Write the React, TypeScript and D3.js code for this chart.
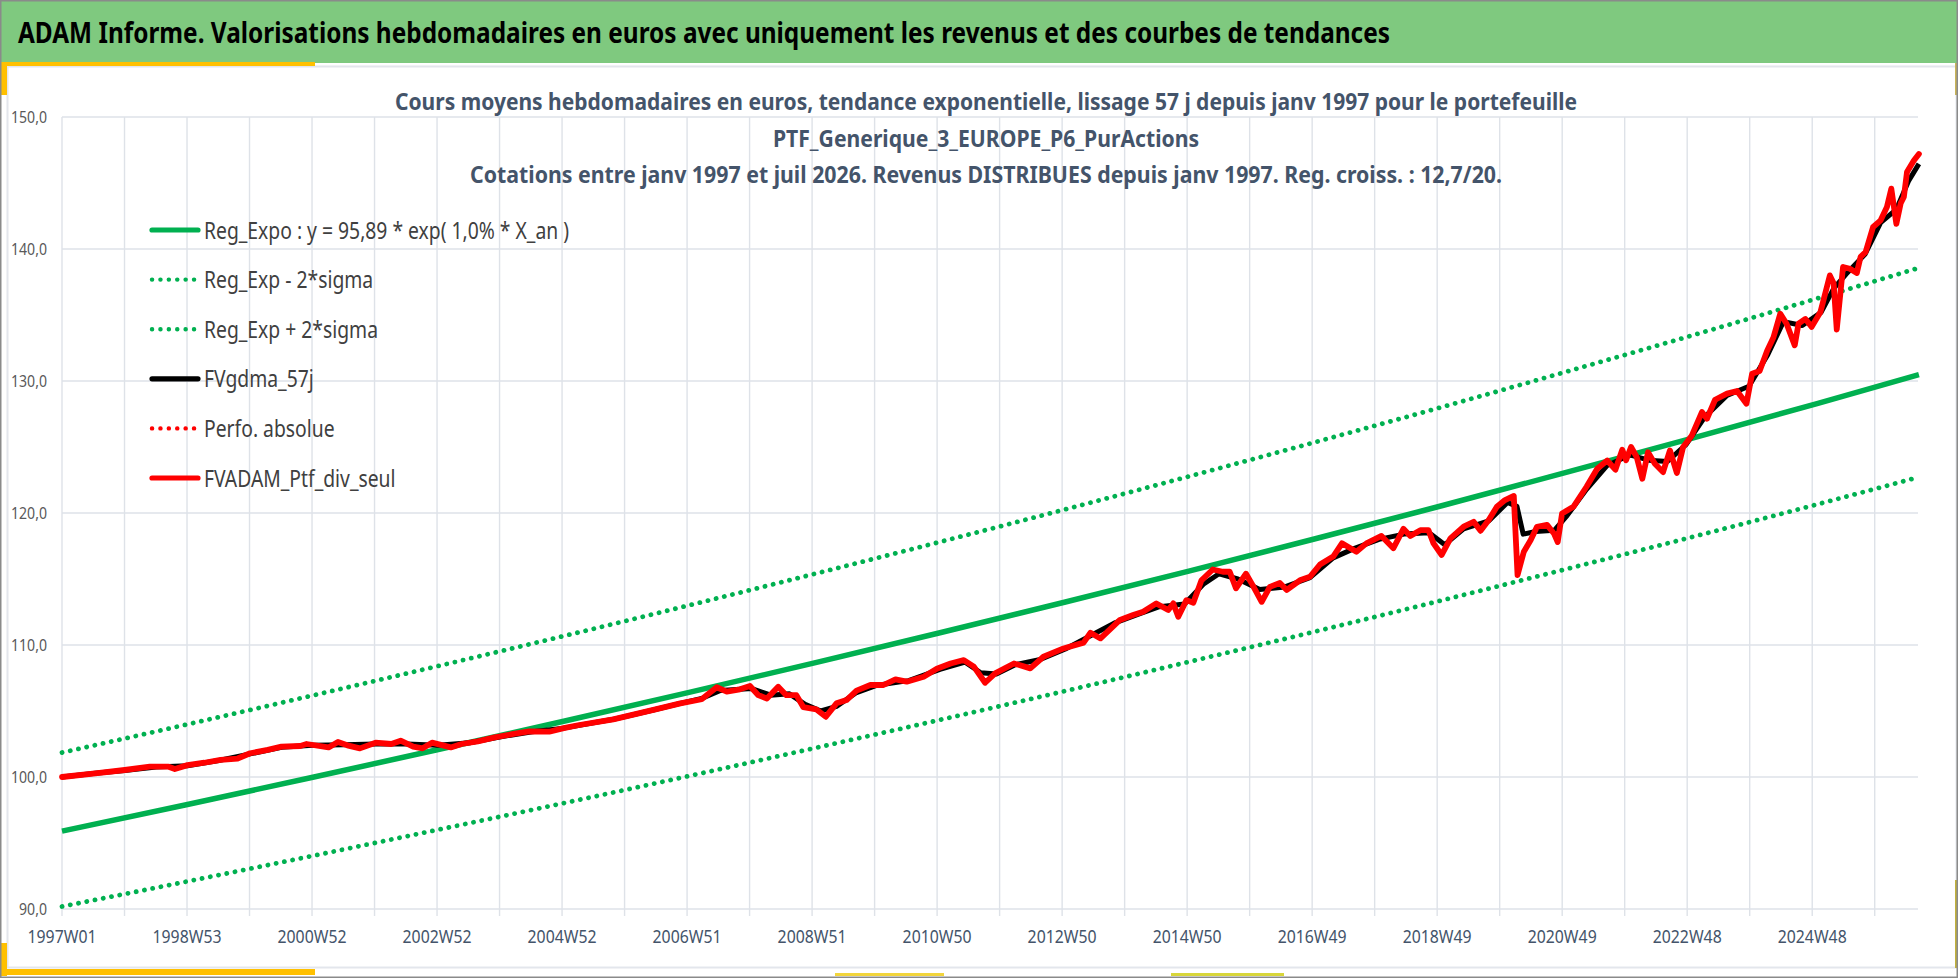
import { useEffect, useRef } from 'react'
import * as d3 from 'd3'

// page and plot frame
const W = 1958, H = 978
const P = { left: 62, right: 1918, top: 117, bottom: 909 }
const N_WEEKS = 1545          // 1997W01 .. juil 2026
const WEEKS_PER_YEAR = 52.17

const title = 'ADAM Informe. Valorisations hebdomadaires en euros avec uniquement les revenus et des courbes de tendances'
const subtitle = [
  'Cours moyens hebdomadaires  en euros, tendance exponentielle, lissage 57 j depuis janv 1997 pour le portefeuille',
  'PTF_Generique_3_EUROPE_P6_PurActions',
  'Cotations entre janv 1997 et juil 2026. Revenus DISTRIBUES depuis janv 1997. Reg. croiss. : 12,7/20.',
]

const xLabels = ['1997W01', '1998W53', '2000W52', '2002W52', '2004W52', '2006W51', '2008W51', '2010W50',
  '2012W50', '2014W50', '2016W49', '2018W49', '2020W49', '2022W48', '2024W48']
const yTicks = [90, 100, 110, 120, 130, 140, 150]

const legendLabels = [
  'Reg_Expo : y = 95,89 * exp( 1,0% *  X_an )',
  'Reg_Exp - 2*sigma',
  'Reg_Exp + 2*sigma',
  'FVgdma_57j',
  'Perfo. absolue',
  'FVADAM_Ptf_div_seul',
]

// tendance exponentielle et bandes +/- 2 sigma
const trendYears = [1997, 1999, 2001, 2003, 2005, 2007, 2009, 2011, 2013, 2015, 2017, 2019, 2021, 2023, 2025, 2026.61]
const trendValues = [95.90, 97.92, 99.98, 102.08, 104.22, 106.41, 108.65, 110.93, 113.26, 115.64, 118.07, 120.55, 123.09, 125.67, 128.31, 130.48]
const upperValues = [101.85, 103.99, 106.18, 108.41, 110.68, 113.01, 115.39, 117.81, 120.28, 122.81, 125.39, 128.02, 130.72, 133.46, 136.27, 138.57]
const lowerValues = [90.19, 92.09, 94.03, 96.01, 98.02, 100.08, 102.19, 104.33, 106.52, 108.76, 111.04, 113.38, 115.77, 118.19, 120.67, 122.72]

// FVADAM_Ptf_div_seul
const ptfYears = [
  1997.00, 1997.53, 1998.00, 1998.40, 1998.70, 1998.80, 1999.00, 1999.27, 1999.53, 1999.80,
  2000.00, 2000.28, 2000.50, 2000.80, 2000.90, 2001.25, 2001.40, 2001.55, 2001.75, 2002.00,
  2002.25, 2002.40, 2002.60, 2002.75, 2002.90, 2003.20, 2003.37, 2003.63, 2003.90, 2004.20,
  2004.45, 2004.77, 2005.00, 2005.25, 2005.79, 2006.43, 2006.86, 2007.20, 2007.44, 2007.60,
  2007.81, 2007.97, 2008.10, 2008.24, 2008.42, 2008.55, 2008.71, 2008.82, 2009.03, 2009.18,
  2009.35, 2009.51, 2009.67, 2009.89, 2010.10, 2010.29, 2010.47, 2010.74, 2010.95, 2011.17,
  2011.38, 2011.54, 2011.72, 2011.88, 2012.18, 2012.44, 2012.65, 2012.97, 2013.29, 2013.40,
  2013.56, 2013.87, 2014.08, 2014.24, 2014.45, 2014.64, 2014.72, 2014.80, 2014.93, 2015.04,
  2015.17, 2015.35, 2015.51, 2015.62, 2015.72, 2015.88, 2015.99, 2016.13, 2016.26, 2016.42,
  2016.53, 2016.74, 2016.90, 2017.06, 2017.27, 2017.41, 2017.64, 2017.80, 2018.04, 2018.23,
  2018.39, 2018.50, 2018.66, 2018.79, 2018.87, 2019.00, 2019.14, 2019.35, 2019.51, 2019.62,
  2019.75, 2019.88, 2020.01, 2020.15, 2020.21, 2020.31, 2020.42, 2020.52, 2020.68, 2020.79,
  2020.85, 2020.92, 2021.10, 2021.31, 2021.48, 2021.64, 2021.77, 2021.88, 2021.94, 2022.02,
  2022.11, 2022.20, 2022.29, 2022.40, 2022.53, 2022.64, 2022.75, 2022.85, 2022.99, 2023.15,
  2023.23, 2023.36, 2023.55, 2023.71, 2023.86, 2023.95, 2024.07, 2024.19, 2024.29, 2024.40,
  2024.50, 2024.63, 2024.69, 2024.80, 2024.90, 2025.04, 2025.19, 2025.25, 2025.30, 2025.40,
  2025.51, 2025.62, 2025.68, 2025.76, 2025.88, 2026.00, 2026.10, 2026.17, 2026.25, 2026.32,
  2026.37, 2026.42, 2026.53, 2026.61,
]
const ptfValues = [
  100.00, 100.28, 100.53, 100.78, 100.78, 100.60, 100.90, 101.08, 101.30, 101.40,
  101.80, 102.05, 102.30, 102.35, 102.50, 102.24, 102.65, 102.40, 102.17, 102.60,
  102.50, 102.75, 102.30, 102.17, 102.60, 102.24, 102.50, 102.70, 103.00, 103.26,
  103.46, 103.43, 103.70, 103.94, 104.37, 105.08, 105.58, 105.89, 106.80, 106.47,
  106.64, 106.89, 106.21, 105.95, 106.84, 106.20, 106.20, 105.30, 105.12, 104.56,
  105.58, 105.83, 106.54, 106.97, 106.97, 107.40, 107.22, 107.60, 108.20, 108.60,
  108.86, 108.36, 107.14, 107.85, 108.60, 108.23, 109.11, 109.74, 110.18, 110.93,
  110.50, 111.90, 112.27, 112.52, 113.15, 112.65, 113.15, 112.14, 113.40, 113.20,
  114.90, 115.72, 115.55, 115.55, 114.30, 115.40, 114.50, 113.27, 114.40, 114.70,
  114.17, 114.90, 115.17, 116.10, 116.70, 117.70, 117.07, 117.70, 118.26, 117.33,
  118.80, 118.26, 118.70, 118.70, 117.70, 116.82, 118.08, 118.96, 119.33, 118.65,
  119.47, 120.47, 120.98, 121.29, 115.30, 117.07, 117.95, 118.96, 119.10, 118.45,
  117.80, 119.97, 120.47, 121.99, 123.35, 123.98, 123.28, 124.80, 124.00, 125.00,
  124.24, 122.60, 124.60, 123.73, 123.10, 124.74, 123.03, 125.00, 125.88, 127.65,
  127.14, 128.58, 129.04, 129.24, 128.28, 130.55, 130.76, 132.30, 133.30, 135.10,
  134.34, 132.70, 134.34, 134.70, 134.10, 135.23, 138.00, 137.40, 133.90, 138.64,
  138.50, 138.18, 139.40, 139.77, 141.67, 142.17, 143.18, 144.57, 141.90, 143.48,
  143.94, 145.83, 146.71, 147.20,
]

// FVgdma_57j (moyenne lissée)
const smoothYears = [
  1997.00, 1997.53, 1998.00, 1998.50, 1999.00, 1999.50, 2000.00, 2000.50, 2001.00, 2001.50,
  2002.00, 2002.50, 2003.00, 2003.50, 2004.00, 2004.50, 2005.00, 2005.79, 2006.43, 2006.86,
  2007.20, 2007.50, 2008.00, 2008.30, 2008.60, 2008.85, 2009.10, 2009.35, 2009.67, 2010.00,
  2010.50, 2011.00, 2011.40, 2011.65, 2011.90, 2012.20, 2012.60, 2013.00, 2013.40, 2013.80,
  2014.20, 2014.50, 2014.90, 2015.20, 2015.45, 2015.75, 2016.10, 2016.50, 2016.90, 2017.27,
  2017.60, 2018.00, 2018.40, 2018.80, 2019.05, 2019.35, 2019.75, 2020.05, 2020.20, 2020.30,
  2020.50, 2020.80, 2021.00, 2021.31, 2021.64, 2022.00, 2022.30, 2022.60, 2022.90, 2023.20,
  2023.55, 2023.90, 2024.20, 2024.45, 2024.75, 2025.05, 2025.25, 2025.45, 2025.75, 2026.00,
  2026.25, 2026.45, 2026.61,
]
const smoothValues = [
  100.00, 100.28, 100.50, 100.75, 100.85, 101.25, 101.75, 102.25, 102.40, 102.45,
  102.50, 102.50, 102.40, 102.60, 103.05, 103.42, 103.70, 104.37, 105.08, 105.58,
  105.95, 106.55, 106.70, 106.20, 106.30, 105.50, 105.00, 105.35, 106.40, 106.95,
  107.30, 108.15, 108.70, 107.90, 107.80, 108.50, 108.90, 109.70, 110.70, 111.70,
  112.40, 112.90, 113.10, 114.60, 115.40, 115.00, 114.20, 114.40, 115.10, 116.60,
  117.30, 118.00, 118.40, 118.50, 117.60, 118.80, 119.40, 120.80, 120.50, 118.40,
  118.60, 118.70, 119.80, 121.80, 123.60, 124.40, 124.00, 123.90, 125.20, 127.30,
  128.90, 129.60, 132.00, 134.50, 134.20, 135.20, 137.00, 138.10, 139.60, 142.00,
  143.00, 145.20, 146.45,
]

const FAMILY = "'Noto Sans', 'Open Sans', 'DejaVu Sans', sans-serif"
const GREEN = '#00B050'
const GRID = '#DEE2E8'
const SLATE = '#44546A'

type TextStyle = { size: number; weight: string | number; fill: string }
type G = d3.Selection<SVGGElement, unknown, null, undefined>

const toWeek = (yr: number) => (yr - 1997) * WEEKS_PER_YEAR
const fr = d3.formatLocale({ decimal: ',', thousands: ' ', grouping: [3], currency: ['', ' €'] })
const fmtY = fr.format('.1f')

// natural width of a string in a given style
function measure(g: G, str: string, s: TextStyle) {
  const t = g.append('text').attr('font-family', FAMILY).attr('font-size', s.size)
    .attr('font-weight', s.weight).text(str)
  const w = (t.node() as SVGTextElement).getComputedTextLength()
  t.remove()
  return w
}

// text squeezed horizontally (the original is rendered in a narrow font)
function addText(g: G, str: string, x: number, y: number, anchor: 'start' | 'middle' | 'end',
  ratio: number, s: TextStyle) {
  const t = g.append('text').attr('y', y).attr('font-family', FAMILY).attr('font-size', s.size)
    .attr('font-weight', s.weight).attr('fill', s.fill).text(str)
  const len = (t.node() as SVGTextElement).getComputedTextLength() * ratio
  const x0 = anchor === 'start' ? x : anchor === 'middle' ? x - len / 2 : x - len
  t.attr('x', x0).attr('textLength', len).attr('lengthAdjust', 'spacingAndGlyphs')
  return t
}

export default function App() {
  const svgRef = useRef<SVGSVGElement>(null)

  useEffect(() => {
    document.body.style.margin = '0'
    document.body.style.overflow = 'hidden'
    const svg = d3.select(svgRef.current)
    svg.selectAll('*').remove()
    const root = svg.append('g') as unknown as G

    const x = d3.scaleLinear().domain([0, N_WEEKS - 1]).range([P.left, P.right])
    const y = d3.scaleLinear().domain([90, 150]).range([P.bottom, P.top])

    // cadre
    root.append('rect').attr('width', W).attr('height', H).attr('fill', '#fff')
    root.append('rect').attr('x', 7.5).attr('y', 66.5).attr('width', 1949).attr('height', 901)
      .attr('fill', 'none').attr('stroke', '#E3E6EC').attr('stroke-width', 2)
    root.append('rect').attr('width', W).attr('height', 63).attr('fill', '#7FC97F')
    root.append('rect').attr('x', 0).attr('y', 62).attr('width', 315).attr('height', 4).attr('fill', '#FFC000')
    root.append('rect').attr('x', 0).attr('y', 63).attr('width', 7).attr('height', 32).attr('fill', '#FFC000')
    root.append('rect').attr('x', 0).attr('y', 943).attr('width', 7).attr('height', 33).attr('fill', '#FFC000')
    root.append('rect').attr('x', 7).attr('y', 969).attr('width', 308).attr('height', 6).attr('fill', '#FFC000')
    root.append('rect').attr('x', 835).attr('y', 973).attr('width', 109).attr('height', 3).attr('fill', '#F2D53C')
    root.append('rect').attr('x', 1171).attr('y', 973).attr('width', 113).attr('height', 3).attr('fill', '#D8D63A')
    root.append('rect').attr('x', 1955).attr('y', 63).attr('width', 3).attr('height', 32).attr('fill', '#C9B458')
    root.append('rect').attr('x', 1955).attr('y', 880).attr('width', 3).attr('height', 88).attr('fill', '#C2B13C')
    root.append('rect').attr('x', 0.75).attr('y', 0.75).attr('width', W - 1.5).attr('height', H - 1.5)
      .attr('fill', 'none').attr('stroke', '#8A8A8A').attr('stroke-width', 1.5)

    // titre du bandeau
    const hStyle = { size: 29, weight: 700, fill: '#000' }
    addText(root, title, 18, 43, 'start', 1372 / measure(root, title, hStyle), hStyle)

    // grille
    const grid = root.append('g')
    grid.selectAll('line.v').data(d3.range(0, N_WEEKS, 52)).join('line')
      .attr('x1', (d) => x(d)).attr('x2', (d) => x(d))
      .attr('y1', P.top).attr('y2', P.bottom + 7)
      .attr('stroke', GRID).attr('stroke-width', 1.4)
    grid.selectAll('line.h').data(yTicks).join('line')
      .attr('x1', P.left).attr('x2', P.right)
      .attr('y1', (d) => y(d)).attr('y2', (d) => y(d))
      .attr('stroke', GRID).attr('stroke-width', 1.4)

    // étiquettes d'axes
    const yStyle = { size: 16, weight: 400, fill: '#595959' }
    const yRatio = 36 / measure(root, '150,0', yStyle)
    yTicks.forEach((v) => addText(root, fmtY(v), 47, y(v) + 5.5, 'end', yRatio, yStyle))

    const xStyle = { size: 18, weight: 400, fill: SLATE }
    const xRatio = 69 / measure(root, xLabels[0], xStyle)
    xLabels.forEach((lab, i) => addText(root, lab, x(i * 104), 943, 'middle', xRatio, xStyle))

    // sous-titre
    const sStyle = { size: 23, weight: 700, fill: SLATE }
    const r1 = 1182 / measure(root, subtitle[0], sStyle)
    const r3 = 1032 / measure(root, subtitle[2], sStyle)
    addText(root, subtitle[0], 986, 110, 'middle', r1, sStyle)
    addText(root, subtitle[1], 986, 146.5, 'middle', (r1 + r3) / 2, sStyle)
    addText(root, subtitle[2], 986, 183, 'middle', r3, sStyle)

    // séries
    const series = root.append('g')
    const pair = (ys: number[], vs: number[]) => ys.map((t, i) => [t, vs[i]] as [number, number])
    const raw = d3.line<[number, number]>().x((d) => x(toWeek(d[0]))).y((d) => y(d[1]))
    const smooth = d3.line<[number, number]>().x((d) => x(toWeek(d[0]))).y((d) => y(d[1]))
      .curve(d3.curveMonotoneX)

    series.append('path').attr('d', smooth(pair(trendYears, trendValues)))
      .attr('fill', 'none').attr('stroke', GREEN).attr('stroke-width', 5.5)
    ;[lowerValues, upperValues].forEach((vals) => {
      series.append('path').attr('d', smooth(pair(trendYears, vals)))
        .attr('fill', 'none').attr('stroke', GREEN).attr('stroke-width', 4.8)
        .attr('stroke-linecap', 'round').attr('stroke-dasharray', '0.1 8.3')
    })
    series.append('path').attr('d', raw(pair(smoothYears, smoothValues)))
      .attr('fill', 'none').attr('stroke', '#000').attr('stroke-width', 5)
      .attr('stroke-linejoin', 'round')
    series.append('path').attr('d', raw(pair(ptfYears, ptfValues)))
      .attr('fill', 'none').attr('stroke', '#FF0000').attr('stroke-width', 5.8)
      .attr('stroke-linejoin', 'round').attr('stroke-linecap', 'round')

    // légende
    const lStyle = { size: 23, weight: 400, fill: '#404040' }
    const lRatio = 365 / measure(root, legendLabels[0], lStyle)
    const strokes = [GREEN, GREEN, GREEN, '#000', '#FF0000', '#FF0000']
    const dotted = [false, true, true, false, true, false]
    legendLabels.forEach((lab, i) => {
      const cy = 230 + i * 49.6
      root.append('line').attr('x1', 152).attr('x2', 198).attr('y1', cy).attr('y2', cy)
        .attr('stroke', strokes[i]).attr('stroke-width', dotted[i] ? 4.4 : 5.2)
        .attr('stroke-linecap', 'round')
        .attr('stroke-dasharray', dotted[i] ? '0.1 8.3' : null)
      addText(root, lab, 204, cy + 8.5, 'start', lRatio, lStyle)
    })
  }, [])

  return <svg ref={svgRef} width={W} height={H} viewBox={`0 0 ${W} ${H}`} style={{ display: 'block' }} />
}
